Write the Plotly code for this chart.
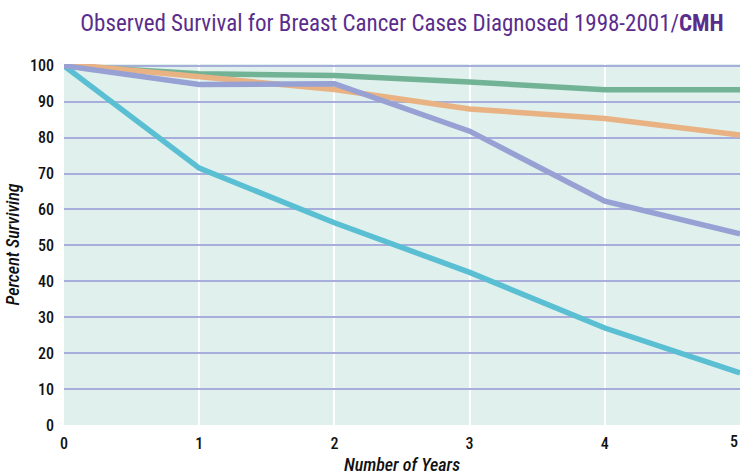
import plotly.graph_objects as go

# Years since diagnosis
years = [0, 1, 2, 3, 4, 5]

# Observed survival (%) by series
green_vals = [100, 97.8, 97.3, 95.5, 93.3, 93.3]
orange_vals = [100.5, 97.0, 93.4, 88.0, 85.3, 80.7]
purple_vals = [100, 94.8, 95.0, 81.8, 62.3, 53.2]
teal_vals = [100, 71.5, 56.3, 42.5, 27.0, 14.5]

y_ticks = [0, 10, 20, 30, 40, 50, 60, 70, 80, 90, 100]
x_ticks = [0, 1, 2, 3, 4]
last_year = 5

FONT = "Roboto Condensed, Roboto, sans-serif"
TICK_FONT = dict(family=FONT, size=16, color="#111111", weight=500)

fig = go.Figure()

series = [
    (teal_vals, "#5bbfd4"),
    (green_vals, "#72b396"),
    (orange_vals, "#e9b283"),
    (purple_vals, "#97a1d3"),
]
for vals, color in series:
    fig.add_trace(go.Scatter(
        x=years, y=vals, mode="lines",
        line=dict(color=color, width=5.5),
        showlegend=False, hoverinfo="skip",
    ))

# the final year label sits against the right edge of the page
fig.add_annotation(
    x=last_year, y=0, xref="x", yref="y",
    text=str(last_year), showarrow=False,
    xanchor="right", yanchor="top", yshift=-5,
    font=TICK_FONT,
)

fig.update_layout(
    width=740, height=476,
    margin=dict(l=64, r=0, t=64, b=51),
    paper_bgcolor="white",
    plot_bgcolor="#dff0ed",
    title=dict(
        text="Observed Survival for Breast Cancer Cases Diagnosed 1998-2001/<b>CMH</b>",
        x=0.5, xref="paper", xanchor="center",
        y=0.952, yref="container", yanchor="middle",
        font=dict(family=FONT, size=23, color="#5a2d8c"),
    ),
    font=dict(family=FONT, size=16, color="#111111"),
)

fig.update_xaxes(
    range=[0, 5], tickvals=x_ticks, ticks="",
    showgrid=True, gridcolor="white", gridwidth=2,
    zeroline=False, showline=False,
    tickfont=TICK_FONT, ticklabelstandoff=7,
    title=dict(text="<i>Number of Years</i>", standoff=6,
               font=dict(family=FONT, size=18, color="#111111", weight=500)),
)
fig.update_yaxes(
    range=[0, 100.5], tickvals=y_ticks, ticks="",
    showgrid=True, gridcolor="#a7aedb", gridwidth=1.5,
    zeroline=False, showline=False,
    tickfont=TICK_FONT, ticklabelstandoff=9,
    title=dict(text="<i>Percent Surviving</i>", standoff=5,
               font=dict(family=FONT, size=18, color="#111111", weight=500)),
)

fig.write_html("out.html")
